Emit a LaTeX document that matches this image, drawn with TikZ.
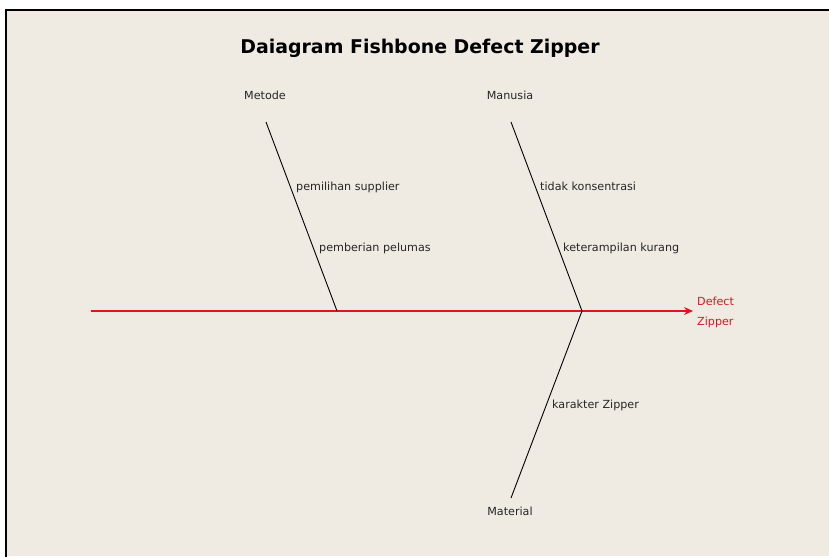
\documentclass[tikz,border=0pt]{standalone}
\usepackage{fontspec}
\setmainfont{DejaVu Sans}
\usetikzlibrary{arrows.meta}
\definecolor{bg}{HTML}{EFEBE2}
\definecolor{spine}{HTML}{E0141E}
\begin{document}
\begin{tikzpicture}[x=1bp,y=-1bp,
  lbl/.style={font=\fontsize{11.2}{13}\selectfont, text=black!85, inner sep=0pt},
  cause/.style={lbl, anchor=west},
  bone/.style={black, line width=0.9bp},
  heading/.style={font=\bfseries\fontsize{19}{22}\selectfont, inner sep=0pt}]
\useasboundingbox (0,0) rectangle (829,558);
\fill[white] (0,0) rectangle (829,558);
\fill[bg] (6,10) rectangle (829,556);
\draw[line width=2bp] (6,557) -- (6,10) -- (829,10);
\node[heading] (title) at (420,48) {Daiagram Fishbone Defect Zipper};
% spine
\coordinate (tail) at (91,311);
\coordinate (head) at (693,311);
\draw[spine, line width=1.1bp, -{Stealth[length=9bp,width=8bp,inset=3bp]}] (tail) -- (head);
\node[lbl, text=spine, anchor=west, align=left, font=\fontsize{11.2}{20}\selectfont] (effect) at (697,312) {Defect\\Zipper};
% bones
\coordinate (m1) at (266,122); \coordinate (m2) at (337,311);
\coordinate (h1) at (511,122); \coordinate (h2) at (582,311);
\coordinate (t1) at (511,498);
\draw[bone] (m1) -- (m2);
\draw[bone] (h1) -- (h2);
\draw[bone] (h2) -- (t1);
\node[lbl] (metode) at (265,95) {Metode};
\node[lbl] (manusia) at (510,95) {Manusia};
\node[lbl] (material) at (510,511) {Material};
\node[cause] (c1) at (296,187) {pemilihan supplier};
\node[cause] (c2) at (319,248) {pemberian pelumas};
\node[cause] (c3) at (540,186) {tidak konsentrasi};
\node[cause] (c4) at (563,248) {keterampilan kurang};
\node[cause] (c5) at (552,405) {karakter Zipper};
\end{tikzpicture}
\end{document}
